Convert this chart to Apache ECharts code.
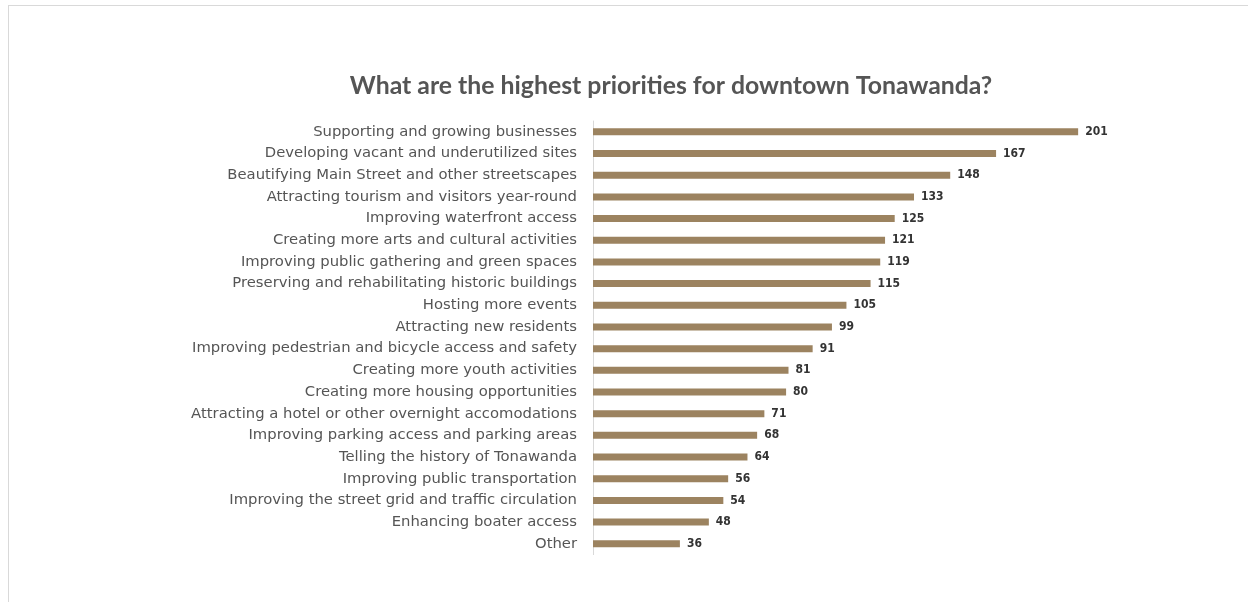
<!DOCTYPE html>
<html>
<head>
<meta charset="utf-8">
<script src="https://cdn.jsdelivr.net/npm/echarts@6/dist/echarts.min.js"></script>
<style>
  html, body { margin: 0; padding: 0; background: #fff; }
  #frame { position: absolute; left: 8px; top: 5px; width: 1300px; height: 700px;
           border-left: 1px solid #d9d9d9; border-top: 1px solid #d9d9d9; }
  #chart { position: absolute; left: 0; top: 0; width: 1248px; height: 602px; }
</style>
</head>
<body>
<div id="frame"></div>
<div id="chart"></div>
<script>
// Survey responses: highest priorities for downtown Tonawanda
const categories = [
  'Supporting and growing businesses',
  'Developing vacant and underutilized sites',
  'Beautifying Main Street and other streetscapes',
  'Attracting tourism and visitors year-round',
  'Improving waterfront access',
  'Creating more arts and cultural activities',
  'Improving public gathering and green spaces',
  'Preserving and rehabilitating historic buildings',
  'Hosting more events',
  'Attracting new residents',
  'Improving pedestrian and bicycle access and safety',
  'Creating more youth activities',
  'Creating more housing opportunities',
  'Attracting a hotel or other overnight accomodations',
  'Improving parking access and parking areas',
  'Telling the history of Tonawanda',
  'Improving public transportation',
  'Improving the street grid and traffic circulation',
  'Enhancing boater access',
  'Other'
];
const responses = [201, 167, 148, 133, 125, 121, 119, 115, 105, 99, 91, 81, 80, 71, 68, 64, 56, 54, 48, 36];

const chart = echarts.init(document.getElementById('chart'), null, { renderer: 'canvas' });
const labelFont = '"DejaVu Sans", sans-serif';
const valueFont = '"DejaVu Sans Condensed", "DejaVu Sans", sans-serif';

chart.setOption({
  animation: false,
  backgroundColor: 'transparent',
  title: {
    text: 'What are the highest priorities for downtown Tonawanda?',
    left: 666, top: 69, textAlign: 'center',
    textStyle: { fontFamily: 'Lato, sans-serif', fontWeight: 'bold', fontSize: 24.8, color: '#555555' }
  },
  grid: { left: 593, top: 121, width: 531, height: 433.6, containLabel: false },
  xAxis: {
    type: 'value', min: 0, max: 220, show: false
  },
  yAxis: {
    type: 'category', data: categories, inverse: true,
    axisLine: { show: true, lineStyle: { color: '#d9d9d9', width: 1 } },
    axisTick: { show: false },
    axisLabel: { margin: 16, fontFamily: labelFont, fontSize: 14.8, color: '#555555' }
  },
  series: [{
    type: 'bar', data: responses, barWidth: 7,
    itemStyle: { color: '#9C8360' },
    label: {
      show: true, position: 'right', distance: 7,
      fontFamily: valueFont, fontWeight: 'bold', fontSize: 12, color: '#333333'
    }
  }]
});
</script>
</body>
</html>
